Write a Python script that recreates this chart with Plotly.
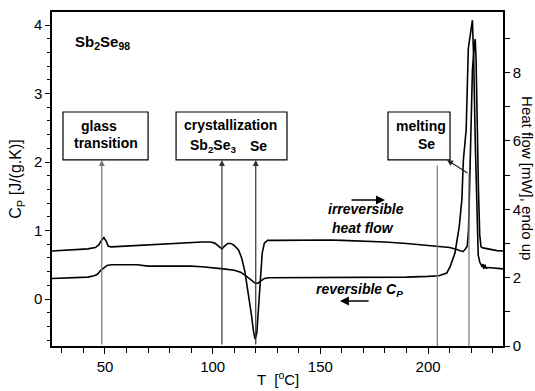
import plotly.graph_objects as go

# ---- data ----
# irreversible heat flow (mW, right axis)
irr_T = [25.4, 35, 42, 45.5, 47, 48.5, 49.5, 50.5, 51.5, 53, 56, 60, 65, 70, 75, 80, 85, 90, 95, 99,
         101, 103, 104.3, 105.5, 107, 108.5, 110, 112, 113.5, 115, 116.5, 118, 119, 119.7, 120.5,
         121.3, 122.2, 123, 124, 125.5, 130, 140, 150, 155, 160, 170, 180, 190, 200, 206, 210, 213,
         215, 216.2, 217.3, 218.2, 218.8, 219.2, 219.8, 220.6, 221.5, 221.9, 222.3, 222.8, 223.4,
         224.0, 224.6, 225.5, 228, 232, 234.8]
irr_mW = [2.78, 2.81, 2.84, 2.88, 2.95, 3.10, 3.17, 3.07, 2.92, 2.90, 2.91, 2.92, 2.95, 2.97, 2.98,
          3.00, 3.00, 3.03, 3.04, 3.04, 3.01, 2.91, 2.84, 2.92, 3.00, 3.00, 2.94, 2.81, 2.57, 2.16,
          1.58, 0.91, 0.41, 0.20, 0.38, 1.05, 2.08, 2.72, 3.01, 3.09, 3.09, 3.10, 3.10, 3.10, 3.09,
          3.07, 3.04, 3.00, 2.95, 2.92, 2.88, 2.83, 2.79, 2.76, 2.84, 2.92, 3.39, 4.56, 6.61, 8.07,
          8.80, 8.98, 8.36, 6.32, 4.56, 3.25, 2.90, 2.87, 2.84, 2.79, 2.78]

# reversible Cp (J/(g.K), left axis)
rev_T = [25.4, 35, 42, 45, 46.5, 48, 49.5, 51, 53, 56, 60, 65, 70, 75, 80, 85, 90, 95, 100, 105,
         110, 113, 115, 117, 118.5, 119.8, 121, 122.5, 124, 126, 135, 150, 170, 190, 200, 205,
         208.7, 210.2, 212.5, 214.5, 215.7, 216.4, 217.7, 218.7, 220.6, 221.2, 221.9, 222.6,
         223.3, 224.0, 224.6, 225.1, 225.5, 225.9, 226.4, 227, 228, 231, 234.8]
rev_Cp = [0.30, 0.31, 0.32, 0.34, 0.36, 0.42, 0.46, 0.49, 0.50, 0.50, 0.51, 0.50, 0.48, 0.48, 0.49,
          0.49, 0.48, 0.47, 0.46, 0.44, 0.42, 0.39, 0.35, 0.30, 0.25, 0.23, 0.23, 0.27, 0.30, 0.31,
          0.31, 0.31, 0.32, 0.32, 0.33, 0.34, 0.38, 0.47, 0.67, 1.06, 1.45, 2.03, 2.47, 3.66, 4.07,
          3.49, 2.32, 1.30, 0.64, 0.54, 0.50, 0.47, 0.51, 0.44, 0.50, 0.45, 0.46, 0.45, 0.44]

# transition markers (temperatures, °C)
glass_T = [48.5]
cryst_T = [104.3, 120.0]
melt_T = [204.3, 219.0]

FONT = "Liberation Sans, Arial, sans-serif"
XR = [25.4, 234.8]
YR = [-0.686, 4.19]
Y2R = [0, 9.77]

fig = go.Figure()
fig.add_trace(go.Scatter(x=rev_T, y=rev_Cp, mode="lines", line=dict(color="black", width=1.6),
                         showlegend=False, yaxis="y"))
fig.add_trace(go.Scatter(x=irr_T, y=irr_mW, mode="lines", line=dict(color="black", width=1.6),
                         showlegend=False, yaxis="y2"))

annotations = []
shapes = []

box_bottom = 2.03
box_top = 2.73

# boxes
for x0, x1 in [(30.5, 70.0), (83.0, 134.5), (181.4, 210.2)]:
    shapes.append(dict(type="rect", xref="x", yref="y", x0=x0, x1=x1, y0=box_bottom, y1=box_top,
                       line=dict(color="black", width=1.2), fillcolor="rgba(0,0,0,0)"))

# vertical marker lines with arrows to boxes
def varrow(t, color, head=True):
    annotations.append(dict(x=t, y=box_bottom, ax=t, ay=YR[0], xref="x", yref="y", axref="x",
                            ayref="y", text="", showarrow=True, arrowhead=2 if head else 0,
                            arrowsize=1, arrowwidth=1.2, arrowcolor=color, standoff=0))

for t in glass_T:
    varrow(t, "#777777")
for t in cryst_T:
    varrow(t, "#333333")
# melting: onset line (no head) and peak line bending toward box
shapes.append(dict(type="line", xref="x", yref="y", x0=melt_T[0], x1=melt_T[0], y0=YR[0], y1=1.95,
                   line=dict(color="#777777", width=1.2)))
shapes.append(dict(type="line", xref="x", yref="y", x0=melt_T[1], x1=melt_T[1], y0=YR[0], y1=1.825,
                   line=dict(color="#777777", width=1.2)))
annotations.append(dict(x=208.8, y=box_bottom, ax=melt_T[1], ay=1.825, xref="x", yref="y",
                        axref="x", ayref="y", text="", showarrow=True, arrowhead=2, arrowsize=1,
                        arrowwidth=1.2, arrowcolor="#222222", standoff=0))

def txt(x, y, s, size=14, xanchor="center"):
    annotations.append(dict(x=x, y=y, xref="x", yref="y", text=s, showarrow=False,
                            font=dict(family=FONT, size=size, color="black"), xanchor=xanchor,
                            yanchor="middle"))

txt(35.0, 3.74, "<b>Sb<sub>2</sub>Se<sub>98</sub></b>", size=15, xanchor="left")
txt(47.2, 2.53, "<b>glass</b>")
txt(50.5, 2.28, "<b>transition</b>")
txt(108.1, 2.54, "<b>crystallization</b>")
txt(100.2, 2.23, "<b>Sb<sub>2</sub>Se<sub>3</sub></b>")
txt(121.1, 2.23, "<b>Se</b>")
txt(196.8, 2.53, "<b>melting</b>")
txt(199.1, 2.26, "<b>Se</b>")
txt(171.2, 1.31, "<b><i>irreversible</i></b>", size=14)
txt(169.8, 1.04, "<b><i>heat flow</i></b>", size=14)
txt(168.4, 0.13, "<b><i>reversible C<sub>P</sub></i></b>", size=14)

# direction arrows
annotations.append(dict(x=180.0, y=1.445, ax=163.8, ay=1.445, xref="x", yref="y", axref="x",
                        ayref="y", text="", showarrow=True, arrowhead=2, arrowsize=1.2,
                        arrowwidth=1.5, arrowcolor="black", standoff=0))
annotations.append(dict(x=159.1, y=-0.03, ax=173.1, ay=-0.03, xref="x", yref="y", axref="x",
                        ayref="y", text="", showarrow=True, arrowhead=2, arrowsize=1.2,
                        arrowwidth=1.5, arrowcolor="black", standoff=0))

# right axis title (reads top to bottom)
annotations.append(dict(x=1.053, y=0.503, xref="paper", yref="paper", text="Heat flow [mW], endo up",
                        showarrow=False, textangle=90, font=dict(family=FONT, size=15, color="black"),
                        xanchor="center", yanchor="middle"))

# x axis title placed at the bottom of the page
annotations.append(dict(x=0.5, y=-0.131, xref="paper", yref="paper", text="T  [<sup>o</sup>C]",
                        showarrow=False, font=dict(family=FONT, size=15, color="black"),
                        xanchor="center", yanchor="bottom"))

axis_common = dict(showline=True, linecolor="black", linewidth=1.5, ticks="outside",
                   tickcolor="black", tickwidth=1.2, showgrid=False, zeroline=False,
                   automargin=False, tickfont=dict(family=FONT, size=15, color="black"))

fig.update_layout(
    width=535, height=391,
    margin=dict(l=52, r=32, t=12, b=45),
    paper_bgcolor="white", plot_bgcolor="white",
    font=dict(family=FONT, color="black"),
    xaxis=dict(range=XR, dtick=50, tick0=0, ticklen=6, mirror=True,
               minor=dict(dtick=10, tick0=0, ticklen=5, ticks="outside", tickcolor="black",
                          tickwidth=1.2),
               **axis_common),
    yaxis=dict(range=YR, dtick=1, tick0=0, ticklen=5,
               minor=dict(dtick=0.2, tick0=0, ticklen=3, ticks="outside", tickcolor="black",
                          tickwidth=1.2),
               title=dict(text="C<sub>P</sub> [J/(g.K)]", font=dict(family=FONT, size=16), standoff=8),
               **axis_common),
    yaxis2=dict(range=Y2R, dtick=2, tick0=0, ticklen=5, overlaying="y", side="right", anchor="x",
                minor=dict(dtick=1, tick0=0, ticklen=5, ticks="outside", tickcolor="black",
                           tickwidth=1.2),
                **axis_common),
    annotations=annotations,
    shapes=shapes,
)

fig.write_html("out.html")
